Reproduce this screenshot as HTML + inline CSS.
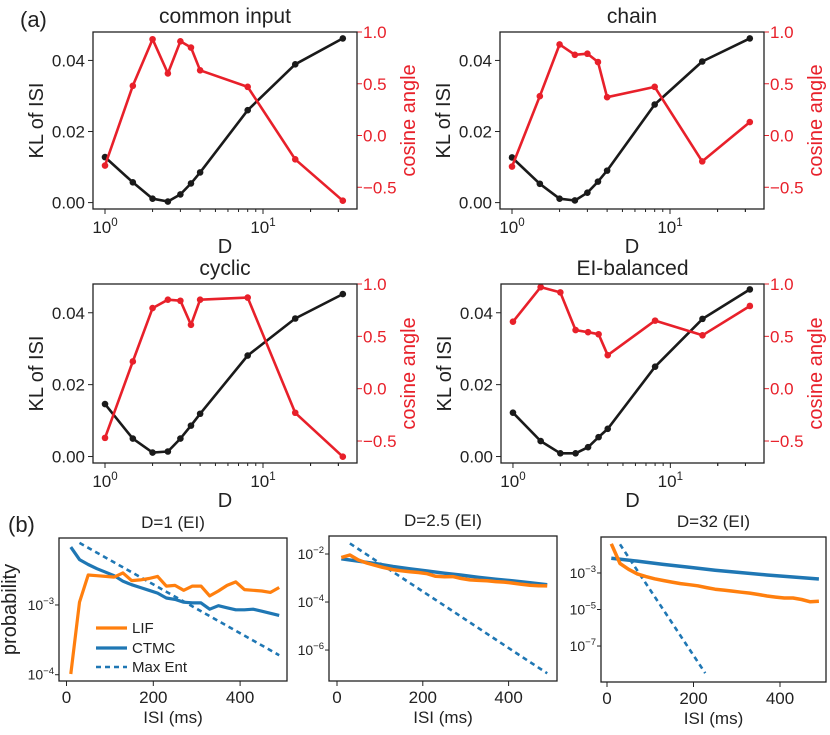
<!DOCTYPE html>
<html><head><meta charset="utf-8">
<style>
html,body{margin:0;padding:0;background:#fff;}
svg text{font-family:"Liberation Sans","DejaVu Sans",sans-serif;}
</style></head>
<body>
<svg id="fig" width="830" height="730" viewBox="0 0 830 730" xmlns="http://www.w3.org/2000/svg">
<text x="20" y="27" font-size="22" fill="#222">(a)</text>
<text x="8" y="532" font-size="22" fill="#222">(b)</text>
</svg>
<script>
// ---------- Data: panel (a) ----------
const dValues = [1, 1.5, 2, 2.5, 3, 3.5, 4, 8, 16, 32];
const commonKL  = [0.0128, 0.0057, 0.0011, 0.0003, 0.0023, 0.0054, 0.0085, 0.026, 0.0389, 0.0462];
const commonCos = [-0.29, 0.48, 0.93, 0.60, 0.91, 0.85, 0.63, 0.47, -0.23, -0.63];
const chainKL   = [0.0127, 0.0053, 0.0011, 0.0006, 0.0028, 0.0059, 0.009, 0.0276, 0.0397, 0.0462];
const chainCos  = [-0.30, 0.38, 0.88, 0.78, 0.79, 0.71, 0.37, 0.47, -0.25, 0.13];
const cyclicKL  = [0.0146, 0.0050, 0.0011, 0.0014, 0.0050, 0.0086, 0.0119, 0.0281, 0.0384, 0.0452];
const cyclicCos = [-0.47, 0.26, 0.77, 0.85, 0.84, 0.61, 0.85, 0.87, -0.23, -0.65];
const eiKL      = [0.0122, 0.0043, 0.0009, 0.0009, 0.0026, 0.0054, 0.0077, 0.025, 0.0383, 0.0465];
const eiCos     = [0.64, 0.97, 0.92, 0.56, 0.54, 0.52, 0.32, 0.65, 0.51, 0.79];
const klTicks = [0.00, 0.02, 0.04];
const klTickLabels = ["0.00", "0.02", "0.04"];
const cosTicks = [-0.5, 0.0, 0.5, 1.0];
const cosTickLabels = ["\u22120.5", "0.0", "0.5", "1.0"];

// ---------- Data: panel (b) (log10 probability) ----------
const isiGrid = [10,30,50,70,90,110,130,150,170,190,210,230,250,270,290,310,330,350,370,390,410,430,450,470,490];
const b1LIF  = [-3.99,-2.96,-2.57,-2.58,-2.59,-2.6,-2.54,-2.65,-2.64,-2.62,-2.59,-2.73,-2.72,-2.79,-2.73,-2.73,-2.87,-2.8,-2.72,-2.67,-2.78,-2.79,-2.8,-2.82,-2.75];
const b1CTMC = [-2.17,-2.35,-2.42,-2.48,-2.53,-2.58,-2.66,-2.71,-2.75,-2.79,-2.83,-2.9,-2.92,-2.96,-2.97,-2.97,-3.06,-3.01,-3.04,-3.07,-3.07,-3.06,-3.09,-3.12,-3.15];
const b1MaxX = [30,130,230,330,430,490];
const b1Max  = [-2.11,-2.46,-2.81,-3.16,-3.51,-3.72];
const b2LIF  = [-2.15,-2.04,-2.25,-2.38,-2.48,-2.57,-2.65,-2.7,-2.74,-2.77,-2.82,-2.93,-2.95,-2.94,-3.02,-3.08,-3.1,-3.11,-3.15,-3.17,-3.21,-3.26,-3.3,-3.32,-3.33];
const b2CTMCX = [10,50,90,130,170,210,250,290,330,370,410,450,490];
const b2CTMC = [-2.2,-2.3,-2.4,-2.52,-2.62,-2.71,-2.8,-2.88,-2.97,-3.05,-3.12,-3.2,-3.28];
const b2MaxX = [30,130,230,330,430,490];
const b2Max  = [-1.56,-2.74,-3.91,-5.09,-6.27,-6.97];
const b3LIF  = [-1.4,-2.48,-2.8,-3.05,-3.2,-3.32,-3.41,-3.5,-3.58,-3.64,-3.7,-3.8,-3.89,-3.94,-3.99,-4.05,-4.1,-4.18,-4.26,-4.32,-4.37,-4.37,-4.45,-4.58,-4.55];
const b3CTMCX = [10,70,130,190,250,310,370,430,490];
const b3CTMC = [-2.19,-2.35,-2.53,-2.69,-2.85,-2.98,-3.11,-3.22,-3.33];
const b3MaxX = [30,80,130,180,227];
const b3Max  = [-1.43,-3.22,-5.0,-6.8,-8.48];
const isiTicks = [0, 200, 400];
const b1YTicks = [-4, -3];
const b2YTicks = [-6, -4, -2];
const b3YTicks = [-7, -5, -3];

// ---------- helpers ----------
const NS = "http://www.w3.org/2000/svg";
const svg = document.getElementById('fig');
function mk(tag, attrs, parent) {
  const e = document.createElementNS(NS, tag);
  for (const k in attrs) e.setAttribute(k, attrs[k]);
  (parent || svg).appendChild(e);
  return e;
}
function txt(x, y, s, size, fill, anchor, parent) {
  const t = mk('text', {x: x, y: y, 'font-size': size, fill: fill, 'text-anchor': anchor}, parent);
  t.textContent = s;
  return t;
}
function supText(x, y, base, exp, size, fill, anchor, parent) {
  const t = mk('text', {x: x, y: y, 'font-size': size, fill: fill, 'text-anchor': anchor}, parent);
  const a = document.createElementNS(NS, 'tspan'); a.textContent = base; t.appendChild(a);
  const b = document.createElementNS(NS, 'tspan'); b.setAttribute('dy', -size*0.42); b.setAttribute('font-size', size*0.68); b.textContent = exp; t.appendChild(b);
  return t;
}

// ---------- panel (a) ----------
function panelA(name, title, box, kl, cos) {
  const g = mk('g', {});
  
  
  const [x0, x1, y0, y1] = box;
  const lxMin = -0.076, lxMax = 1.595;
  const klMin = -0.0018, klMax = 0.048;
  const cMin = -0.71, cMax = 1.0;
  const sx = d => x0 + (Math.log10(d) - lxMin) / (lxMax - lxMin) * (x1 - x0);
  const sy = v => y1 - (v - klMin) / (klMax - klMin) * (y1 - y0);
  const sc = v => y1 - (v - cMin) / (cMax - cMin) * (y1 - y0);
  const t = txt((x0 + x1) / 2, y0 - 9, title, 21, '#222', 'middle', g);
  
  
  for (let dec = 0; dec <= 1; dec++) {
    for (let m = 1; m <= 9; m++) {
      const v = m * Math.pow(10, dec);
      const lv = Math.log10(v);
      if (lv < lxMin || lv > lxMax) continue;
      const X = sx(v);
      mk('line', {x1: X, x2: X, y1: y1, y2: y1 + (m === 1 ? 5 : 3), stroke: '#222', 'stroke-width': 1}, g);
      if (m === 1) supText(X, y1 + 24, '10', String(dec), 17, '#222', 'middle', g);
    }
  }
  [20, 30].forEach(v => { const X = sx(v); mk('line', {x1: X, x2: X, y1: y1, y2: y1 + 3, stroke: '#222', 'stroke-width': 1}, g); });
  const xl = txt((x0 + x1) / 2, y1 + 44, 'D', 20, '#222', 'middle', g);
  
  
  klTicks.forEach((v, i) => {
    const Y = sy(v);
    mk('line', {x1: x0 - 5, x2: x0, y1: Y, y2: Y, stroke: '#222', 'stroke-width': 1}, g);
    txt(x0 - 8, Y + 6, klTickLabels[i], 17, '#222', 'end', g);
  });
  const yl = txt(0, 0, 'KL of ISI', 20, '#222', 'middle', g);
  yl.setAttribute('transform', `translate(${x0 - 50},${(y0 + y1) / 2}) rotate(-90)`);
  
  
  cosTicks.forEach((v, i) => {
    const Y = sc(v);
    mk('line', {x1: x1, x2: x1 + 5, y1: Y, y2: Y, stroke: '#e8202a', 'stroke-width': 1}, g);
    txt(x1 + 6, Y + 6, cosTickLabels[i], 17, '#e8202a', 'start', g);
  });
  const rl = txt(0, 0, 'cosine angle', 20, '#e8202a', 'middle', g);
  rl.setAttribute('transform', `translate(${x1 + 58},${(y0 + y1) / 2}) rotate(-90)`);
  
  
  const klPts = dValues.map((d, i) => sx(d).toFixed(1) + ',' + sy(kl[i]).toFixed(1)).join(' ');
  const kLine = mk('polyline', {points: klPts, fill: 'none', stroke: '#1a1a1a', 'stroke-width': 2.6, 'stroke-linejoin': 'round'}, g);
  
  
  dValues.forEach((d, i) => {
    const c = mk('circle', {cx: sx(d), cy: sy(kl[i]), r: 3.3, fill: '#1a1a1a'}, g);
    
    
  });
  const cPts = dValues.map((d, i) => sx(d).toFixed(1) + ',' + sc(cos[i]).toFixed(1)).join(' ');
  const cLine = mk('polyline', {points: cPts, fill: 'none', stroke: '#e8202a', 'stroke-width': 2.6, 'stroke-linejoin': 'round'}, g);
  
  
  dValues.forEach((d, i) => {
    const c = mk('circle', {cx: sx(d), cy: sc(cos[i]), r: 3.3, fill: '#e8202a'}, g);
    
    
  });
  const fr = mk('rect', {x: x0, y: y0, width: x1 - x0, height: y1 - y0, fill: 'none', stroke: '#222', 'stroke-width': 1.3}, g);
  
  
}
panelA('common-input', 'common input', [93, 357, 32, 209], commonKL, commonCos);
panelA('chain', 'chain', [500, 764, 32, 209], chainKL, chainCos);
panelA('cyclic', 'cyclic', [93, 357, 284, 463], cyclicKL, cyclicCos);
panelA('ei-balanced', 'EI-balanced', [501, 764, 284, 463], eiKL, eiCos);

// ---------- panel (b) ----------
function panelB(name, title, box, zeroX, pxPerMs, ylim, yTicks, series, yLabel) {
  const g = mk('g', {});
  
  
  const [x0, x1, y0, y1] = box;
  const sx = v => zeroX + v * pxPerMs;
  const sy = v => y1 - (v - ylim[0]) / (ylim[1] - ylim[0]) * (y1 - y0);
  const t = txt((x0 + x1) / 2, y0 - 10, title, 17, '#222', 'middle', g);
  
  
  isiTicks.forEach(v => {
    const X = sx(v);
    mk('line', {x1: X, x2: X, y1: y1, y2: y1 + 5, stroke: '#222', 'stroke-width': 1}, g);
    txt(X, y1 + 22, String(v), 17, '#222', 'middle', g);
  });
  const xl = txt((x0 + x1) / 2, y1 + 42, 'ISI (ms)', 17, '#222', 'middle', g);
  
  
  yTicks.forEach(v => {
    const Y = sy(v);
    mk('line', {x1: x0 - 4, x2: x0, y1: Y, y2: Y, stroke: '#222', 'stroke-width': 1}, g);
    supText(x0 - 5, Y + 5, '10', '\u2212' + Math.abs(v), 14, '#222', 'end', g);
  });
  if (yLabel) {
    const yl = txt(0, 0, 'probability', 20, '#222', 'middle', g);
    yl.setAttribute('transform', `translate(${x0 - 43},${(y0 + y1) / 2}) rotate(-90)`);
    
    
  }
  mk('clipPath', {id: name + '-clip'}, g).appendChild((() => { const r = document.createElementNS(NS, 'rect'); r.setAttribute('x', x0); r.setAttribute('y', y0); r.setAttribute('width', x1 - x0); r.setAttribute('height', y1 - y0); return r; })());
  series.forEach(s => {
    const pts = s.x.map((v, i) => sx(v).toFixed(1) + ',' + sy(s.y[i]).toFixed(1)).join(' ');
    const attrs = {points: pts, fill: 'none', stroke: s.color, 'stroke-width': s.w, 'stroke-linejoin': 'round', 'clip-path': `url(#${name}-clip)`};
    if (s.dash) attrs['stroke-dasharray'] = s.dash;
    const pl = mk('polyline', attrs, g);
    
    
  });
  const fr = mk('rect', {x: x0, y: y0, width: x1 - x0, height: y1 - y0, fill: 'none', stroke: '#222', 'stroke-width': 1.3}, g);
  
  
  return g;
}
const ORANGE = '#ff7f0e', BLUE = '#1f77b4';
const g1 = panelB('d1-ei', 'D=1 (EI)', [59, 287, 538, 681], 66.5, 0.434, [-4.09, -2.04], b1YTicks, [
  {id: 'max-ent', x: b1MaxX, y: b1Max, color: BLUE, w: 2.6, dash: '5,4'},
  {id: 'ctmc', x: isiGrid, y: b1CTMC, color: BLUE, w: 3.2},
  {id: 'lif', x: isiGrid, y: b1LIF, color: ORANGE, w: 3.2}
], true);
panelB('d2-5-ei', 'D=2.5 (EI)', [329, 557, 536, 681], 337, 0.429, [-7.29, -1.25], b2YTicks, [
  {id: 'max-ent', x: b2MaxX, y: b2Max, color: BLUE, w: 2.6, dash: '5,4'},
  {id: 'ctmc', x: b2CTMCX, y: b2CTMC, color: BLUE, w: 3.5},
  {id: 'lif', x: isiGrid, y: b2LIF, color: ORANGE, w: 3.5}
], false);
panelB('d32-ei', 'D=32 (EI)', [601, 826, 537, 682], 607, 0.4325, [-8.97, -1.03], b3YTicks, [
  {id: 'max-ent', x: b3MaxX, y: b3Max, color: BLUE, w: 2.6, dash: '5,4'},
  {id: 'ctmc', x: b3CTMCX, y: b3CTMC, color: BLUE, w: 3.5},
  {id: 'lif', x: isiGrid, y: b3LIF, color: ORANGE, w: 3.5}
], false);

const lg = mk('g', {}, g1);


const legendItems = [['LIF', ORANGE, null, 628], ['CTMC', BLUE, null, 648], ['Max Ent', BLUE, '5,4', 667]];
legendItems.forEach(([label, color, dash, y]) => {
  const a = {x1: 96, x2: 127, y1: y, y2: y, stroke: color, 'stroke-width': 3.2};
  if (dash) { a['stroke-dasharray'] = dash; a['stroke-width'] = 2.6; }
  const ln = mk('line', a, lg);
  
  
  const tt = txt(132, y + 5, label, 15, '#222', 'start', lg);
  
  
});
</script>
</body></html>
